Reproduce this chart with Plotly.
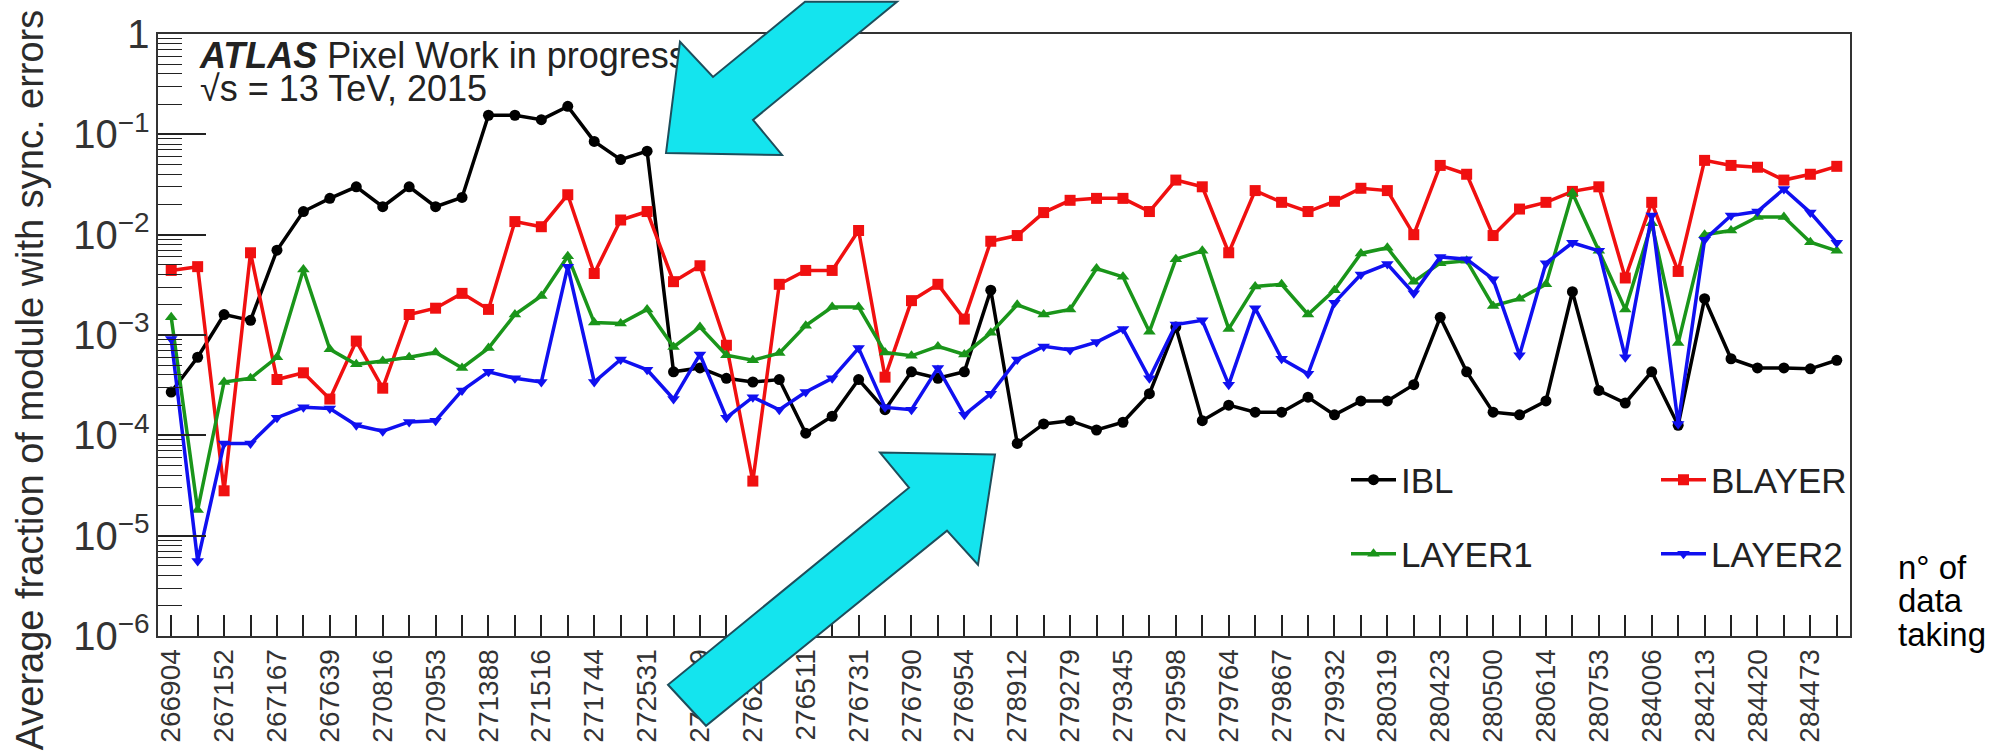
import plotly.graph_objects as go

# Run numbers printed under every other bin
run_labels = [
    "266904", "267152", "267167", "267639", "270816", "270953", "271388", "271516",
    "271744", "272531", "276189", "276262", "276511", "276731", "276790", "276954",
    "278912", "279279", "279345", "279598", "279764", "279867", "279932", "280319",
    "280423", "280500", "280614", "280753", "284006", "284213", "284420", "284473",
]

# Average fraction of modules with synchronisation errors, one value per run
ibl = [
    2.7e-4, 6.0e-4, 1.6e-3, 1.4e-3, 7.0e-3, 1.7e-2, 2.3e-2, 3.0e-2, 1.9e-2, 3.0e-2,
    1.9e-2, 2.35e-2, 0.155, 0.155, 0.14, 0.19, 0.085, 0.056, 0.068, 4.3e-4,
    4.7e-4, 3.7e-4, 3.4e-4, 3.6e-4, 1.05e-4, 1.55e-4, 3.6e-4, 1.8e-4, 4.3e-4, 3.7e-4,
    4.3e-4, 2.8e-3, 8.3e-5, 1.3e-4, 1.4e-4, 1.13e-4, 1.35e-4, 2.6e-4, 1.2e-3, 1.4e-4,
    2.0e-4, 1.7e-4, 1.7e-4, 2.4e-4, 1.6e-4, 2.2e-4, 2.2e-4, 3.2e-4, 1.5e-3, 4.3e-4,
    1.7e-4, 1.6e-4, 2.2e-4, 2.7e-3, 2.8e-4, 2.1e-4, 4.3e-4, 1.26e-4, 2.3e-3, 5.8e-4,
    4.7e-4, 4.7e-4, 4.6e-4, 5.6e-4,
]
blayer = [
    4.4e-3, 4.8e-3, 2.8e-5, 6.6e-3, 3.6e-4, 4.2e-4, 2.3e-4, 8.7e-4, 2.95e-4, 1.6e-3,
    1.85e-3, 2.6e-3, 1.8e-3, 1.35e-2, 1.2e-2, 2.5e-2, 4.1e-3, 1.4e-2, 1.7e-2, 3.4e-3,
    4.9e-3, 7.9e-4, 3.5e-5, 3.2e-3, 4.4e-3, 4.4e-3, 1.1e-2, 3.8e-4, 2.2e-3, 3.2e-3,
    1.44e-3, 8.6e-3, 9.8e-3, 1.66e-2, 2.2e-2, 2.3e-2, 2.3e-2, 1.7e-2, 3.5e-2, 3.0e-2,
    6.6e-3, 2.75e-2, 2.1e-2, 1.7e-2, 2.15e-2, 2.9e-2, 2.75e-2, 1.0e-2, 4.9e-2, 4.0e-2,
    9.8e-3, 1.8e-2, 2.1e-2, 2.7e-2, 3.0e-2, 3.7e-3, 2.1e-2, 4.3e-3, 5.5e-2, 4.9e-2,
    4.7e-2, 3.5e-2, 4.0e-2, 4.8e-2,
]
layer1 = [
    1.5e-3, 1.8e-5, 3.4e-4, 3.7e-4, 6.0e-4, 4.5e-3, 7.2e-4, 5.1e-4, 5.5e-4, 6.0e-4,
    6.7e-4, 4.7e-4, 7.4e-4, 1.6e-3, 2.45e-3, 6.1e-3, 1.33e-3, 1.3e-3, 1.8e-3, 7.6e-4,
    1.2e-3, 6.3e-4, 5.6e-4, 6.6e-4, 1.24e-3, 1.9e-3, 1.9e-3, 6.7e-4, 6.2e-4, 7.7e-4,
    6.4e-4, 1.05e-3, 2.0e-3, 1.6e-3, 1.8e-3, 4.6e-3, 3.8e-3, 1.08e-3, 5.7e-3, 6.9e-3,
    1.15e-3, 3.05e-3, 3.2e-3, 1.6e-3, 2.8e-3, 6.5e-3, 7.4e-3, 3.4e-3, 5.2e-3, 5.5e-3,
    1.95e-3, 2.3e-3, 3.2e-3, 2.6e-2, 6.9e-3, 1.8e-3, 1.3e-2, 8.3e-4, 1.0e-2, 1.1e-2,
    1.5e-2, 1.5e-2, 8.4e-3, 6.9e-3,
]
layer2 = [
    9.1e-4, 5.6e-6, 8.3e-5, 8.3e-5, 1.5e-4, 1.9e-4, 1.85e-4, 1.26e-4, 1.1e-4, 1.36e-4,
    1.4e-4, 2.8e-4, 4.3e-4, 3.7e-4, 3.4e-4, 4.8e-3, 3.4e-4, 5.7e-4, 4.5e-4, 2.3e-4,
    6.4e-4, 1.5e-4, 2.4e-4, 1.8e-4, 2.7e-4, 3.7e-4, 7.4e-4, 1.9e-4, 1.8e-4, 4.7e-4,
    1.6e-4, 2.6e-4, 5.7e-4, 7.7e-4, 7.1e-4, 8.5e-4, 1.15e-3, 3.7e-4, 1.27e-3, 1.4e-3,
    3.2e-4, 1.85e-3, 5.8e-4, 4.1e-4, 2.1e-3, 4.0e-3, 5.1e-3, 2.6e-3, 6.0e-3, 5.7e-3,
    3.6e-3, 6.3e-4, 5.2e-3, 8.3e-3, 6.9e-3, 6.0e-4, 1.55e-2, 1.3e-4, 8.9e-3, 1.55e-2,
    1.7e-2, 2.85e-2, 1.66e-2, 8.3e-3,
]

run_index = list(range(len(ibl)))
tick_text = [run_labels[i // 2] if i % 2 == 0 else "" for i in run_index]

FONT = "Liberation Sans, Arial, Helvetica, sans-serif"
W, H = 1995, 755
L, R, T, B = 158, 145, 23, 115
PW, PH = W - L - R, H - T - B


def px(x):
    return (x - L) / PW


def py(y):
    return (H - B - y) / PH


def arrow_path(points):
    return "M " + " L ".join(f"{px(x):.5f},{py(y):.5f}" for x, y in points) + " Z"


fig = go.Figure()

series = [
    ("IBL", ibl, "#000000", "circle", 11, "legend"),
    ("BLAYER", blayer, "#F01010", "square", 11, "legend"),
    ("LAYER1", layer1, "#1A951A", "triangle-up", 11, "legend2"),
    ("LAYER2", layer2, "#1010F0", "triangle-down", 11, "legend2"),
]
for name, vals, color, symbol, size, leg in series:
    fig.add_trace(go.Scatter(
        x=run_index, y=vals, name=name, mode="lines+markers",
        line=dict(color=color, width=3.5),
        marker=dict(color=color, symbol=symbol, size=size),
        legend=leg,
    ))

# ATLAS label on an overlay axis so the arrow can sit on top of it
fig.add_trace(go.Scatter(
    x=[px(200), px(200)], y=[py(49), py(82)],
    xaxis="x2", yaxis="y2", mode="text",
    text=["<b><i>ATLAS</i></b> Pixel Work in progress", "\u221As = 13 TeV, 2015"],
    textposition="middle right",
    textfont=dict(family=FONT, size=36, color="#222222"),
    showlegend=False, hoverinfo="skip",
))

arrow_fill = "#14E4EE"
arrow_edge = "#1D4E5C"
arrow_down = [(666, 145), (680, 31), (713, 67), (805, -10), (897, -10),
              (753, 111), (782, 147)]
arrow_up = [(995, 454), (880, 452), (909, 488), (668, 690), (706, 732),
            (947, 532), (978, 567)]
shapes = [
    dict(type="path", xref="paper", yref="paper", path=arrow_path(p),
         fillcolor=arrow_fill, line=dict(color=arrow_edge, width=2), layer="above")
    for p in (arrow_down, arrow_up)
]

annotations = [
    dict(text="Average fraction of module with sync. errors", textangle=-90,
         xref="paper", yref="paper", x=px(30), y=py(378),
         xanchor="center", yanchor="middle", showarrow=False,
         font=dict(family=FONT, size=38, color="#2b2b2b")),
]
for txt, yy in (("n\u00b0 of", 570), ("data", 604), ("taking", 638)):
    annotations.append(dict(
        text=txt, xref="paper", yref="paper", x=px(1896), y=py(yy),
        xanchor="left", yanchor="middle", showarrow=False,
        font=dict(family=FONT, size=33, color="#000000")))

legend_common = dict(
    orientation="h", xanchor="left", yanchor="middle",
    entrywidth=250, entrywidthmode="pixels", itemwidth=45,
    bgcolor="rgba(0,0,0,0)", font=dict(family=FONT, size=35, color="#222222"),
    traceorder="normal",
)

fig.update_layout(
    width=W, height=H,
    margin=dict(l=L, r=R, t=T, b=B),
    paper_bgcolor="white", plot_bgcolor="white",
    font=dict(family=FONT, color="#222222"),
    showlegend=True,
    legend=dict(x=px(1346), y=py(480), **legend_common),
    legend2=dict(x=px(1346), y=py(556), **legend_common),
    xaxis=dict(
        range=[-0.5, len(run_index) - 0.5],
        tickmode="array", tickvals=run_index, ticktext=tick_text,
        tickangle=-90, ticks="inside", ticklen=21, tickwidth=1.5, tickcolor="#222",
        tickfont=dict(family=FONT, size=28, color="#333333"),
        showline=True, mirror=True, linecolor="#333", linewidth=2,
        showgrid=False, zeroline=False,
    ),
    yaxis=dict(
        type="log", range=[-6, 0], dtick=1, exponentformat="power",
        ticks="inside", ticklen=48, tickwidth=1.5, tickcolor="#222",
        minor=dict(ticks="inside", ticklen=24, tickwidth=1.2, tickcolor="#222",
                   dtick="D1", showgrid=False),
        tickfont=dict(family=FONT, size=32, color="#333333"),
        showline=True, mirror=True, linecolor="#333", linewidth=2,
        showgrid=False, zeroline=False,
    ),
    xaxis2=dict(overlaying="x", range=[0, 1], visible=False, fixedrange=True),
    yaxis2=dict(overlaying="y", range=[0, 1], visible=False, fixedrange=True),
    shapes=shapes,
    annotations=annotations,
)

fig.write_html("out.html")
